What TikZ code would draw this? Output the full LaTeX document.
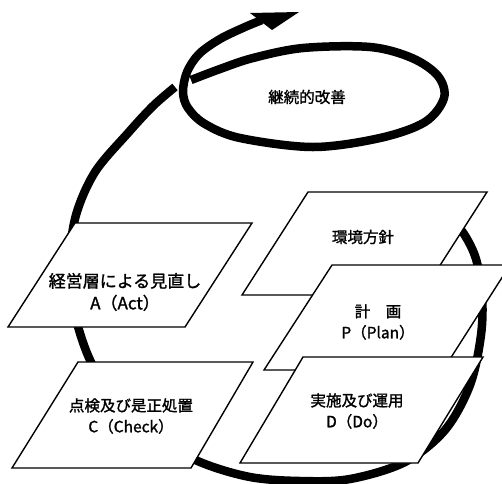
\documentclass[tikz,border=0pt]{standalone}
\usepackage{fontspec}
\setmainfont{Noto Sans CJK JP}[FakeBold=1.4]
\begin{document}
\begin{tikzpicture}[x=1pt,y=-1pt,
  box/.style={draw=black, fill=white, line width=1.4pt, line join=miter},
  band/.style={draw=black, line width=8.5pt, line cap=butt},
  lbl/.style={font=\fontsize{15.5}{21}\selectfont, align=center, inner sep=0pt}]
\useasboundingbox (0,0) rectangle (502,483);
\clip (0,0) rectangle (502,483);
% big ring (runs behind the boxes)
\draw[band] plot[smooth, tension=0.55] coordinates {
 (450,218) (464,234) (476,259) (482,295) (481,335) (470,385) (445,430)
 (405,462) (350,479) (300,481) (250,477) (200,462) (155,437) (117,402)
 (90,360) (74,310) (70,260) (76,215) (95,172) (128,133) (153,106) (175,87)};
% spiral loop and exit
\draw[band] plot[smooth, tension=0.55] coordinates {
 (191,80) (220,69) (253,58) (303,48) (370,47) (412,58) (438,76) (444,98)
 (425,122) (380,138) (313,147) (240,138) (205,124) (188,108) (183,92)
 (187,72) (199,54) (220,39) (245,27) (262,20)};
\fill[black] (250,13) -- (299,12) -- (272,30) -- cycle;
\node[lbl] (kaizen) at (307,97) {継続的改善};
% boxes
\draw[box] (75,223) -- (252,223) -- (185,327) -- (8,327) -- cycle;
\node[lbl, font=\fontsize{17}{22}\selectfont] (act) at (125,292) {経営層による見直し\\A（Act）};
\draw[box] (78,362) -- (253,362) -- (191,468) -- (12,468) -- cycle;
\node[lbl] (check) at (131,416) {点検及び是正処置\\C（Check）};
\draw[box] (308,192) -- (487,192) -- (421,295) -- (242,295) -- cycle;
\node[lbl] (policy) at (363,237) {環境方針};
\draw[box] (332,265) -- (510,265) -- (443,370) -- (264,370) -- cycle;
\node[lbl] (plan) at (378,322) {計　画\\P（Plan）};
\draw[box] (303,357) -- (483,357) -- (418,463) -- (240,463) -- cycle;
\node[lbl] (do) at (357,411) {実施及び運用\\D（Do）};
\end{tikzpicture}
\end{document}
